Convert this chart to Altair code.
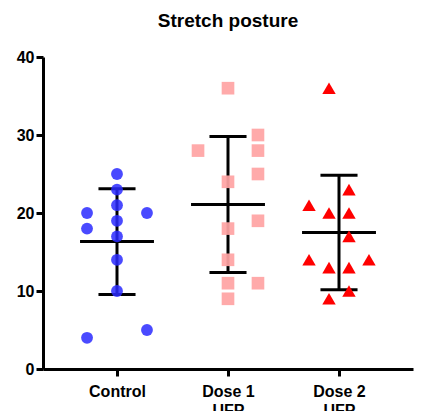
import altair as alt
import pandas as pd

groups = ["Control", "Dose 1\nUFP", "Dose 2\nUFP"]
control_values = [25, 23, 21, 19, 17, 14, 10, 20, 18, 4, 20, 5]
control_lanes = [0, 0, 0, 0, 0, 0, 0, -3, -3, -3, 3, 3]
dose1_values = [36, 30, 28, 28, 25, 24, 19, 18, 14, 11, 11, 9]
dose1_lanes = [0, 3, -3, 3, 3, 0, 3, 0, 0, 0, 3, 0]
dose2_values = [36, 23, 21, 20, 20, 17, 14, 14, 13, 13, 10, 9]
dose2_lanes = [-1, 1, -3, -1, 1, 1, -3, 3, -1, 1, 1, -1]
y_ticks = [0, 10, 20, 30, 40]

rows = []
for gi, (vals, lanes) in enumerate([(control_values, control_lanes),
                                    (dose1_values, dose1_lanes),
                                    (dose2_values, dose2_lanes)]):
    for v, l in zip(vals, lanes):
        rows.append({"group": groups[gi], "idx": gi + 1, "value": v, "lane": l})
df = pd.DataFrame(rows)

FONT = "Liberation Sans"
xscale = alt.Scale(domain=[1 / 3, 3 + 2 / 3], nice=False, zero=False)
yscale = alt.Scale(domain=[0, 40], nice=False)

label_expr = ("datum.value == 1 ? 'Control' : datum.value == 2 ? "
              "['Dose 1', 'UFP'] : ['Dose 2', 'UFP']")

xaxis = alt.Axis(values=[1, 2, 3], labelExpr=label_expr, title=None, grid=False,
                 domainColor="black", domainWidth=3, tickColor="black", tickWidth=3,
                 tickSize=7, labelFont=FONT, labelFontWeight="bold", labelFontSize=16,
                 labelColor="black", labelPadding=7, labelLineHeight=19)
yaxis = alt.Axis(values=y_ticks, title=None, grid=False,
                 domainColor="black", domainWidth=3, tickColor="black", tickWidth=3,
                 tickSize=7, labelFont=FONT, labelFontWeight="bold", labelFontSize=16,
                 labelColor="black", labelPadding=2)

base = alt.Chart(df)

points = base.transform_calculate(
    xpos="datum.idx + datum.lane * 0.09"
).mark_point(filled=True, strokeWidth=0).encode(
    x=alt.X("xpos:Q", scale=xscale, axis=xaxis),
    y=alt.Y("value:Q", scale=yscale, axis=yaxis),
    shape=alt.Shape("group:N", scale=alt.Scale(domain=groups,
                    range=["circle", "square", "triangle-up"]), legend=None),
    color=alt.Color("group:N", scale=alt.Scale(domain=groups,
                    range=["#2a2aff", "#ffa3a3", "#ff0000"]), legend=None),
    opacity=alt.Opacity("group:N", scale=alt.Scale(domain=groups,
                    range=[0.85, 1, 1]), legend=None),
    size=alt.Size("group:N", scale=alt.Scale(domain=groups,
                    range=[140, 180, 190]), legend=None),
)

stats = base.transform_aggregate(
    mean="mean(value)", sd="stdev(value)", groupby=["idx"]
).transform_calculate(
    lo="datum.mean - datum.sd", hi="datum.mean + datum.sd",
    m1="datum.idx - 0.333", m2="datum.idx + 0.333",
    c1="datum.idx - 0.167", c2="datum.idx + 0.167",
)

rule_kw = dict(color="black", strokeWidth=3, strokeCap="butt")
vline = stats.mark_rule(**rule_kw).encode(
    x=alt.X("idx:Q", scale=xscale), y=alt.Y("lo:Q", scale=yscale), y2="hi:Q")
mline = stats.mark_rule(**rule_kw).encode(
    x=alt.X("m1:Q", scale=xscale), x2="m2:Q", y=alt.Y("mean:Q", scale=yscale))
capl = stats.mark_rule(**rule_kw).encode(
    x=alt.X("c1:Q", scale=xscale), x2="c2:Q", y=alt.Y("lo:Q", scale=yscale))
caph = stats.mark_rule(**rule_kw).encode(
    x=alt.X("c1:Q", scale=xscale), x2="c2:Q", y=alt.Y("hi:Q", scale=yscale))

chart = alt.layer(vline, mline, capl, caph, points).properties(
    width=370, height=312,
    background="white",
    title=alt.TitleParams("Stretch posture", font=FONT, fontSize=19,
                          fontWeight="bold", color="black", anchor="middle",
                          offset=18),
    autosize=alt.AutoSizeParams(type="none"),
    padding={"left": 43, "top": 57, "right": 10, "bottom": 42},
).configure_view(stroke=None, strokeWidth=0)

chart.save("out.html", embed_options={"renderer": "svg", "actions": False})
